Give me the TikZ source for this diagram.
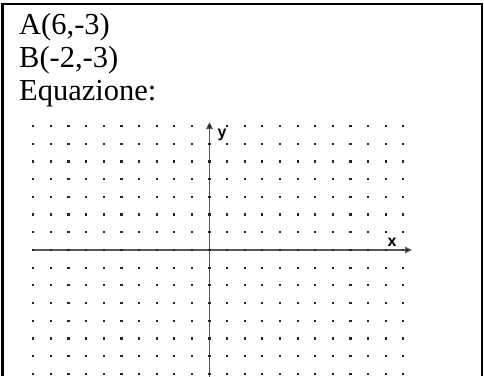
\documentclass[tikz,border=0pt]{standalone}
\usepackage{fontspec}
\setmainfont{Liberation Serif}
\newfontfamily\axfont{Liberation Sans}
\usetikzlibrary{positioning,arrows.meta}

\begin{document}
\begin{tikzpicture}[
  x=1pt, y=-1pt,
  txt/.style={
    anchor=base west,
    inner sep=0pt,
    font=\fontsize{30.5}{33}\selectfont
  },
  frame/.style={line width=2.6pt},
  dotc/.style={fill=black!85},
  axis/.style={draw=black!65, line width=1.3pt, -{Triangle[length=7pt,width=6.5pt,fill=black]}},
  axlabel/.style={inner sep=0pt, font=\axfont\bfseries\fontsize{16}{16}\selectfont}
]
\useasboundingbox (0,0) rectangle (484,376);
\draw[frame] (2.5,376) |- (482,4) -- (482,376);
\node[txt] (pa) at (19,34) {A(6,-3)};
\node[txt] (pb) at (19,67) {B(-2,-3)};
\node[txt] (eq) at (19,100) {Equazione:};
\coordinate (xs) at (32,250);
\coordinate (xe) at (412,250);
\coordinate (ys) at (209.5,378);
\coordinate (ye) at (209.5,122);
\draw[axis] (xs) -- (xe);
\draw[axis] (ys) -- (ye);
\foreach \i in {0,...,21}
  \foreach \j in {0,...,14}
    \fill[dotc] ({33.3+17.62*\i-1.1},{126+17.7*\j-1.1}) rectangle ++(2.2,2.2);
\node[axlabel] (xlab) at (392,242) {x};
\node[axlabel] (ylab) at (222,135) {y};
\end{tikzpicture}
\end{document}
